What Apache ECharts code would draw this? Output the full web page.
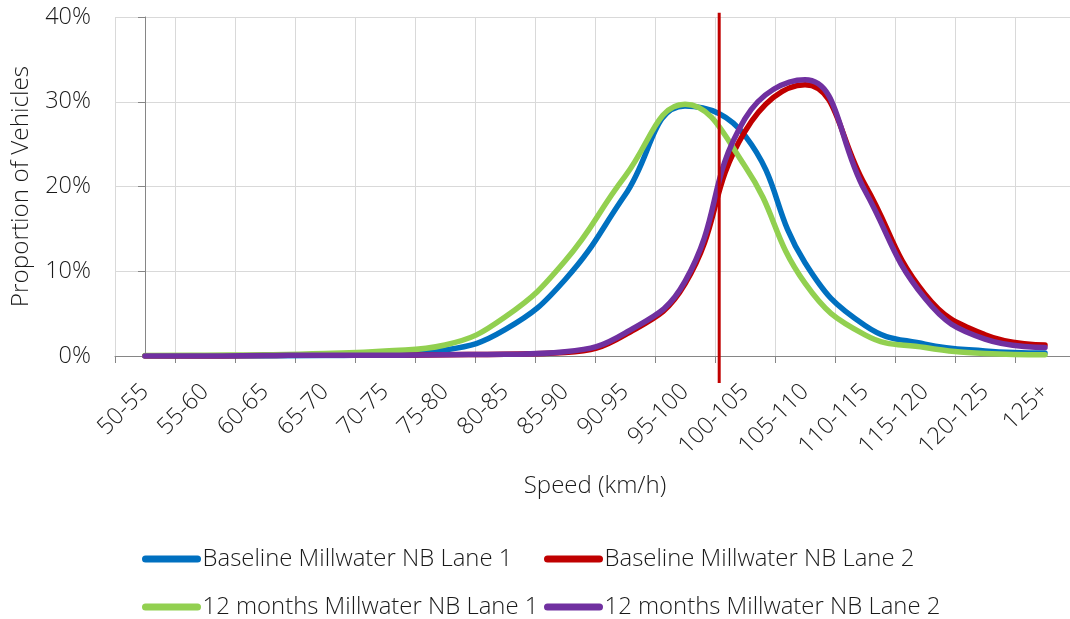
<!DOCTYPE html>
<html>
<head>
<meta charset="utf-8">
<title>Speed distribution - Millwater NB</title>
<script src="https://cdn.jsdelivr.net/npm/echarts@6/dist/echarts.min.js"></script>
<style>
  html, body { margin: 0; padding: 0; background: #fff; }
  #chart { width: 1070px; height: 619px; }
</style>
</head>
<body>
<div id="chart"></div>
<script>
// speed bins (km/h)
const speedBins = ['50-55', '55-60', '60-65', '65-70', '70-75', '75-80', '80-85', '85-90',
  '90-95', '95-100', '100-105', '105-110', '110-115', '115-120', '120-125', '125+']

// proportion of vehicles (%) per bin
const baselineLane1 = [0.0, 0.0, 0.0, 0.05, 0.2, 0.7, 3.1, 9.0, 19.0, 29.5, 26.0, 11.0, 3.6, 1.4, 0.6, 0.35]
const baselineLane2 = [0.0, 0.0, 0.05, 0.1, 0.1, 0.15, 0.2, 0.4, 2.5, 8.5, 26.5, 32.0, 20.2, 7.3, 2.5, 1.3]
const monthsLane1 = [0.05, 0.1, 0.15, 0.3, 0.6, 1.3, 4.6, 11.2, 21.2, 29.7, 22.4, 8.6, 2.5, 1.0, 0.3, 0.15]
const monthsLane2 = [0.0, 0.0, 0.05, 0.1, 0.1, 0.15, 0.2, 0.5, 2.7, 8.8, 28.0, 32.6, 19.5, 6.8, 2.0, 1.0]

const seriesNames = [
  'Baseline Millwater NB Lane 1',
  'Baseline Millwater NB Lane 2',
  '12 months Millwater NB Lane 1',
  '12 months Millwater NB Lane 2'
]
const seriesColors = ['#0070C0', '#C00000', '#92D050', '#7030A0']
const seriesData = [baselineLane1, baselineLane2, monthsLane1, monthsLane2]

// speed limit marker: position in bin-index units, and its vertical extent (%)
const limitPos = 9.57
const limitSpan = [-3.2, 40.5]

const yTicks = { min: 0, max: 40, interval: 10 }

const font = "'Open Sans', sans-serif"
const fontWeight = 300
const textColor = '#1a1a1a'

const chart = echarts.init(document.getElementById('chart'))

const lineSeries = seriesNames.map((name, i) => ({
  name: name,
  type: 'line',
  data: seriesData[i],
  smooth: 0.45,
  symbol: 'none',
  color: seriesColors[i],
  lineStyle: { width: 5.5, color: seriesColors[i], cap: 'round', join: 'round' },
  z: 2 + i
}))

// 2x2 legend block, one legend per series so the columns line up
const legendCols = [142, 544]
const legendRows = [547, 595]
const legends = seriesNames.map((name, i) => ({
  data: [name],
  left: legendCols[i % 2],
  top: legendRows[Math.floor(i / 2)],
  padding: 0,
  itemWidth: 52,
  itemHeight: 7,
  itemGap: 0,
  selectedMode: false,
  lineStyle: { width: 7, cap: 'round' },
  itemStyle: { opacity: 0 },
  textStyle: { fontFamily: font, fontWeight: fontWeight, fontSize: 23.9, color: textColor }
}))

const option = {
  backgroundColor: '#fff',
  animation: false,
  // plot area runs slightly past the right edge, as in the original
  grid: { left: 115, top: 17, width: 960, height: 339, outerBoundsMode: 'none' },
  legend: legends,
  xAxis: [
    {
      type: 'category',
      data: speedBins,
      boundaryGap: true,
      name: 'Speed (km/h)',
      nameLocation: 'middle',
      nameGap: 118,
      nameTextStyle: { fontFamily: font, fontWeight: fontWeight, fontSize: 24, color: textColor },
      axisLine: { lineStyle: { color: '#868686', width: 1 } },
      axisTick: { show: true, length: 7, interval: 0, lineStyle: { color: '#868686' } },
      axisLabel: {
        interval: 0,
        rotate: 45,
        margin: 32,
        fontFamily: font,
        fontWeight: fontWeight,
        fontSize: 23.5,
        color: textColor
      },
      splitLine: { show: true, interval: 0, lineStyle: { color: '#d9d9d9', width: 1 } }
    },
    {
      // hidden linear axis in bin-index units, used for the speed limit line
      type: 'value',
      min: -0.5,
      max: speedBins.length - 0.5,
      show: false
    }
  ],
  yAxis: {
    type: 'value',
    min: yTicks.min,
    max: yTicks.max,
    interval: yTicks.interval,
    name: 'Proportion of Vehicles',
    nameLocation: 'middle',
    nameGap: 82,
    nameTextStyle: { fontFamily: font, fontWeight: fontWeight, fontSize: 24.3, color: textColor },
    axisLine: { show: true, lineStyle: { color: '#868686', width: 1 } },
    axisTick: { show: true, length: 7, lineStyle: { color: '#868686' } },
    axisLabel: {
      formatter: '{value}%',
      margin: 24,
      fontFamily: font,
      fontWeight: fontWeight,
      fontSize: 23.5,
      color: textColor
    },
    splitLine: { show: true, lineStyle: { color: '#d9d9d9', width: 1 } }
  },
  series: lineSeries.concat([
    {
      name: 'Speed limit',
      type: 'line',
      xAxisIndex: 1,
      data: [[limitPos, limitSpan[0]], [limitPos, limitSpan[1]]],
      symbol: 'none',
      clip: false,
      silent: true,
      lineStyle: { color: '#C00000', width: 3 },
      z: 10
    }
  ])
}

chart.setOption(option)
</script>
</body>
</html>
